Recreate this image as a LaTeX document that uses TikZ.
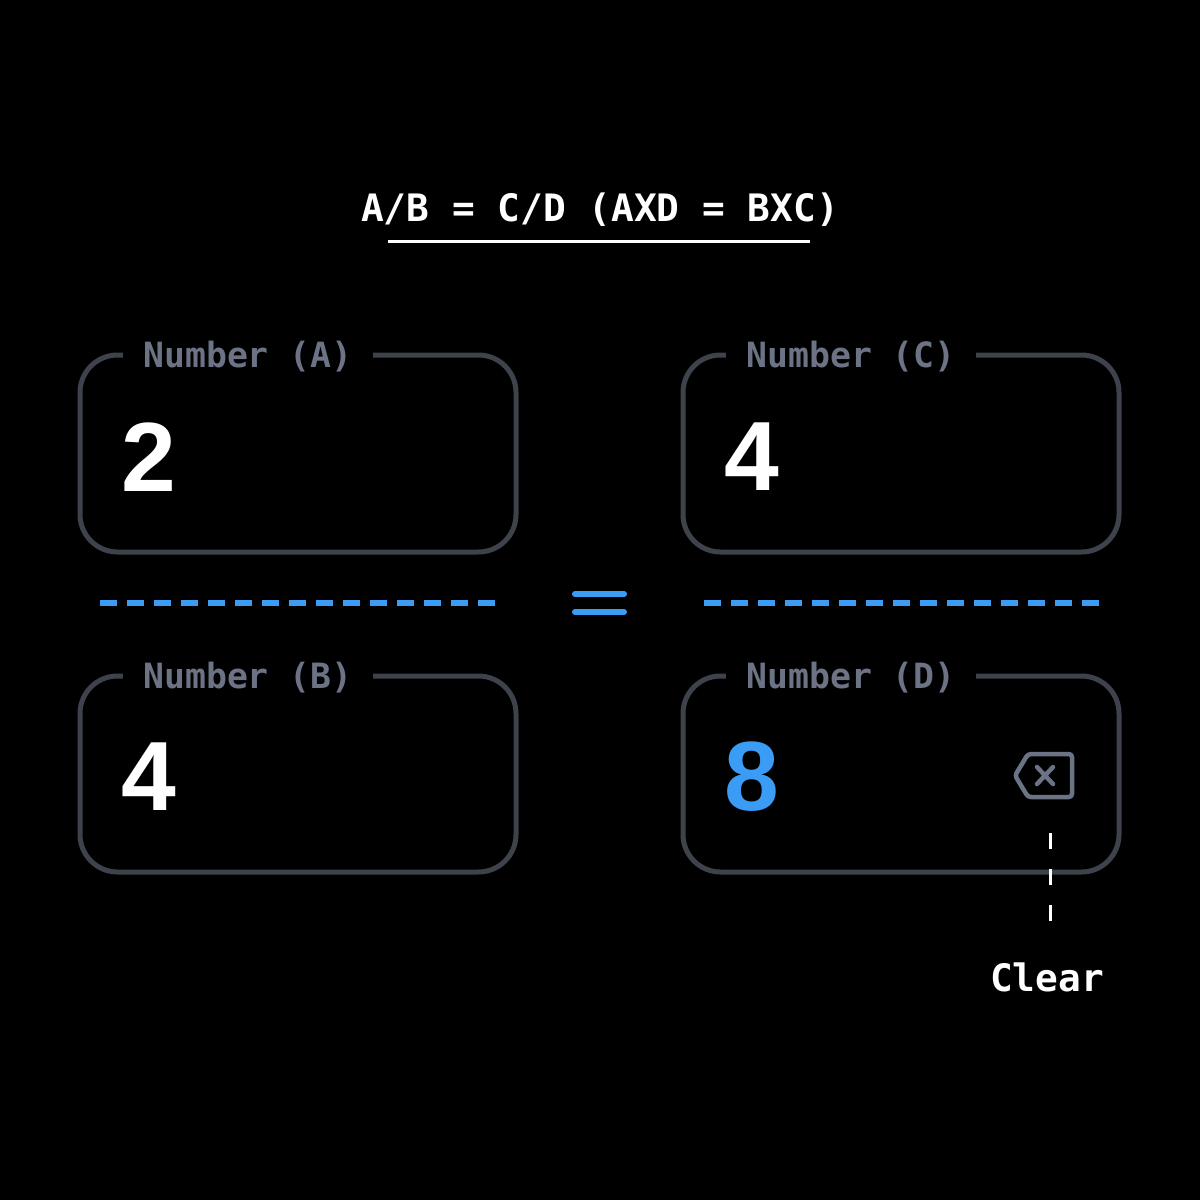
\documentclass[tikz,border=0pt]{standalone}
\usepackage{fontspec}
\setmainfont{Liberation Sans}
\newfontfamily\monof{DejaVu Sans Mono}
\begin{document}
\begin{tikzpicture}[x=0.02cm,y=-0.02cm]
\definecolor{bgc}{HTML}{000000}
\definecolor{boxc}{HTML}{3D424B}
\definecolor{labc}{HTML}{6B7385}
\definecolor{bluec}{HTML}{3B9CF6}
\tikzset{
 field/.style={draw=boxc,line width=0.1cm,rounded corners=0.75cm},
 flabel/.style={text=labc,font=\monof\bfseries\fontsize{19.8}{20}\selectfont,fill=black,inner xsep=0.4cm,inner ysep=0.1cm},
 fnum/.style={text=white,font=\bfseries\fontsize{56}{56}\selectfont,anchor=west},
 frac/.style={draw=bluec,line width=0.12cm,dash pattern=on 0.34cm off 0.2cm},
}
\fill[bgc] (0,0) rectangle (1200,1200);
\node[text=white,font=\monof\bfseries\fontsize{21.5}{22}\selectfont] (title) at (600,210) {A/B = C/D (AXD = BXC)};
\draw[white,line width=0.06cm] (388,241) -- (810,241);
% boxes
\draw[field] (80,355) rectangle (516,552);
\draw[field] (683,355) rectangle (1119,552);
\draw[field] (80,676) rectangle (516,872);
\draw[field] (683,676) rectangle (1119,872);
\node[flabel] (la) at (248,357) {Number (A)};
\node[flabel] (lc) at (851,357) {Number (C)};
\node[flabel] (lb) at (248,678) {Number (B)};
\node[flabel] (ld) at (851,678) {Number (D)};
\node[fnum] (na) at (115,457) {2};
\node[fnum] (nc) at (718,457) {4};
\node[fnum] (nb) at (115,777) {4};
\node[fnum,text=bluec] (nd) at (718,777) {8};
% fraction lines
\draw[frac] (100,603) -- (500,603);
\draw[frac] (704,603) -- (1100,603);
\draw[bluec,line width=0.12cm,line cap=round] (575,594) -- (624,594) (575,612) -- (624,612);
% clear icon
\draw[labc,line width=0.09cm,line join=round,rounded corners=0.06cm] (1028,754) -- (1072,754) -- (1072,797) -- (1028,797) -- (1015,775.5) -- cycle;
\draw[labc,line width=0.09cm,line cap=round] (1037,767) -- (1053,784) (1053,767) -- (1037,784);
\coordinate (ic) at (1050,833);
\node[text=white,font=\monof\bfseries\fontsize{21.5}{22}\selectfont] (clear) at (1047,977) {Clear};
\draw[white,line width=0.06cm,dash pattern=on 0.32cm off 0.4cm] (ic) -- (1050,935);
\end{tikzpicture}
\end{document}
